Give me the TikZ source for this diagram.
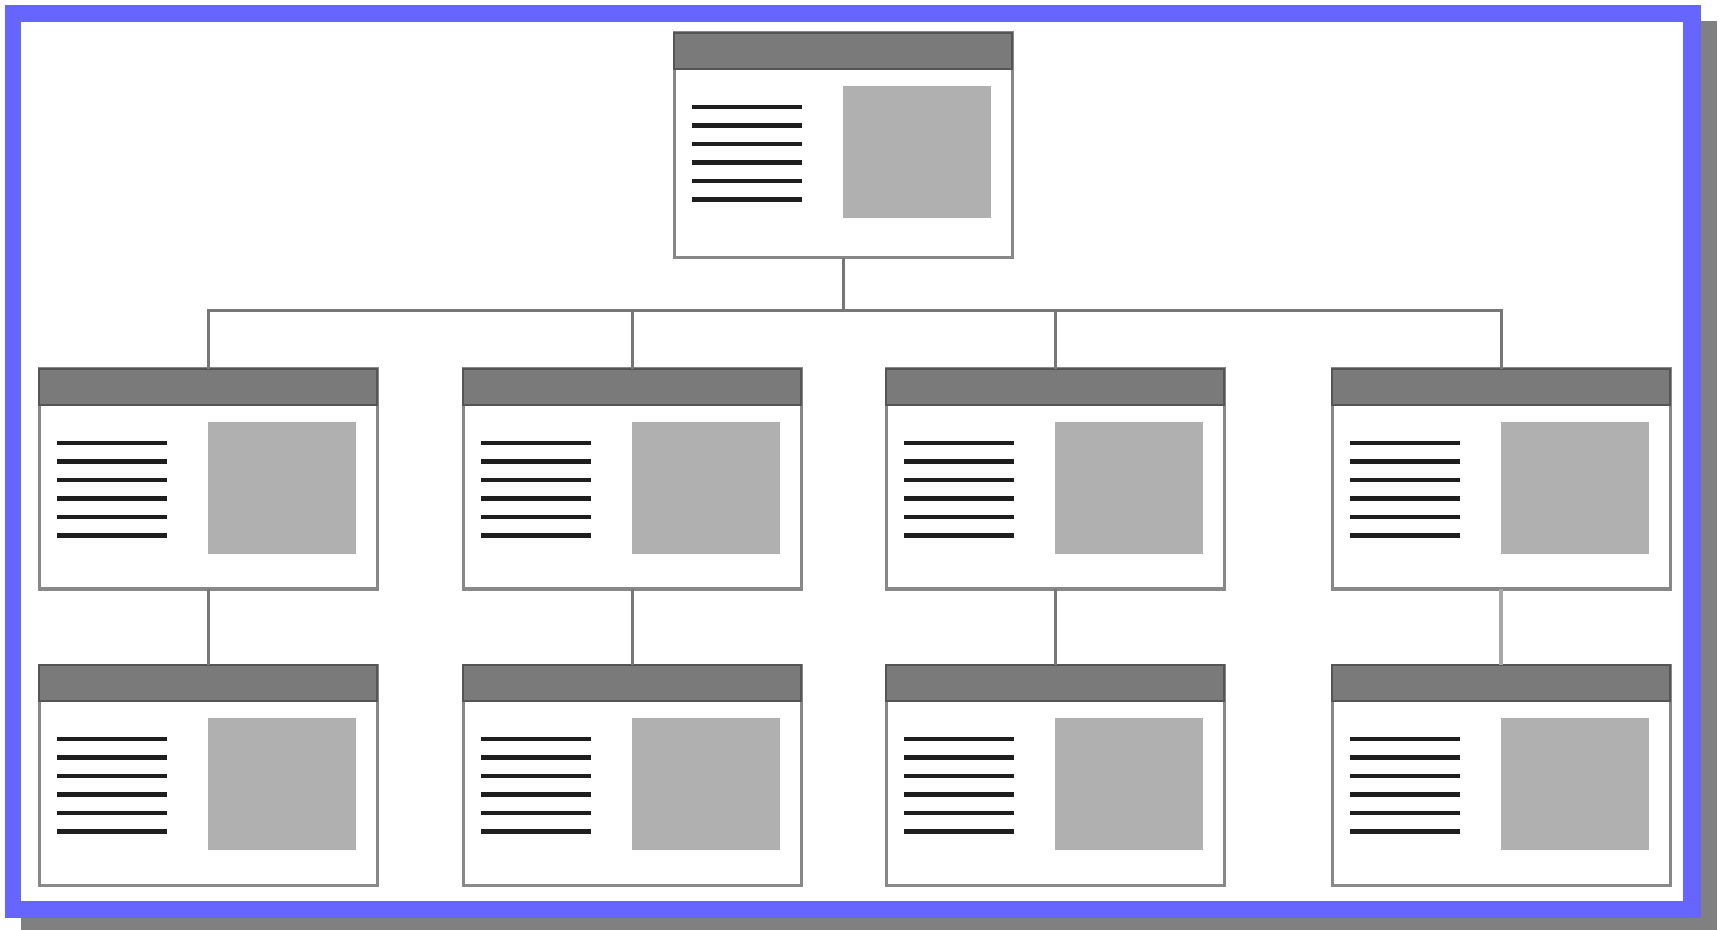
\documentclass[tikz,border=0pt]{standalone}
\usetikzlibrary{calc}
\definecolor{frameblue}{HTML}{6666FF}
\definecolor{shadowgray}{HTML}{808080}
\definecolor{edgegray}{HTML}{888888}
\definecolor{headgray}{HTML}{7A7A7A}
\definecolor{headedge}{HTML}{555555}
\definecolor{imggray}{HTML}{B0B0B0}
\definecolor{textline}{HTML}{1E1E1E}
\definecolor{conngray}{HTML}{777777}
\definecolor{connlight}{HTML}{A8A8A8}
\tikzset{
  x=0.5pt, y=-0.5pt,
  pagebox/.style={draw=edgegray, fill=white, line width=1.5pt,
    minimum width=169pt, minimum height=110pt, inner sep=0pt, outer sep=0pt},
  topbox/.style={pagebox, minimum height=112.5pt},
  header/.style={fill=headgray, draw=headedge, line width=1pt},
  picblock/.style={fill=imggray, draw=none},
  txtline/.style={draw=textline, line width=2.4pt},
  conn/.style={draw=conngray, line width=1.5pt},
  connpale/.style={draw=connlight, line width=2pt},
}
% one page thumbnail: title bar, six text rules and a picture block
\newcommand{\pagethumb}[4]{%
  \node[#4] (#1) at (#2,#3) {};
  \begin{scope}[shift={(#1.north west)}]
    \path[header] (0,0) rectangle (338,36);
    \foreach \k in {0,...,5}
      \draw[txtline] (18,{74+18.5*\k}) -- (128,{74+18.5*\k});
    \path[picblock] (169,53) rectangle (317,185);
  \end{scope}
}
\begin{document}
\begin{tikzpicture}
  \useasboundingbox (0,0) rectangle (1725,930);
  % frame with drop shadow
  \fill[shadowgray] (21,21) rectangle (1717,930);
  \fill[frameblue] (5,5) rectangle (1701,918);
  \fill[white] (21,22) rectangle (1683,901);

  % pages
  \pagethumb{top}{843}{145.5}{topbox}
  \pagethumb{a1}{208}{479}{pagebox}
  \pagethumb{a2}{632}{479}{pagebox}
  \pagethumb{a3}{1055}{479}{pagebox}
  \pagethumb{a4}{1501}{479}{pagebox}
  \pagethumb{b1}{208}{775}{pagebox}
  \pagethumb{b2}{632}{775}{pagebox}
  \pagethumb{b3}{1055}{775}{pagebox}
  \pagethumb{b4}{1501}{775}{pagebox}

  % tree connectors
  \coordinate (bus) at (843,311);
  \draw[conn] (top.south) -- (bus);
  \draw[conn] (a1.north) -- (a1.north |- bus) -- (a4.north |- bus) -- (a4.north);
  \draw[conn] (a2.north) -- (a2.north |- bus);
  \draw[conn] (a3.north) -- (a3.north |- bus);
  \draw[conn] (a1.south) -- (b1.north);
  \draw[conn] (a2.south) -- (b2.north);
  \draw[conn] (a3.south) -- (b3.north);
  \draw[connpale] (a4.south) -- (b4.north);
\end{tikzpicture}
\end{document}
